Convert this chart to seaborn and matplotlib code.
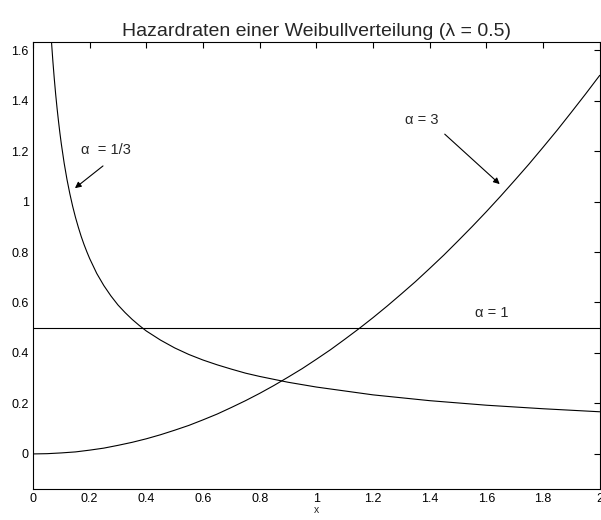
import matplotlib
matplotlib.use("Agg")
import matplotlib.pyplot as plt
import seaborn as sns
from matplotlib.ticker import FormatStrFormatter, MultipleLocator

# Werte
x_a13 = [0.050, 0.055, 0.060, 0.065, 0.070, 0.075, 0.080, 0.085, 0.090, 0.095,
         0.10, 0.11, 0.12, 0.13, 0.14, 0.15, 0.16, 0.17, 0.18, 0.19, 0.20,
         0.225, 0.25, 0.275, 0.30, 0.325, 0.35, 0.375, 0.40, 0.45, 0.50,
         0.55, 0.60, 0.65, 0.70, 0.75, 0.80, 0.90, 1.00,
         1.20, 1.40, 1.60, 1.80, 2.00]
h_a13 = [1.949, 1.829, 1.726, 1.637, 1.558, 1.488, 1.425, 1.369, 1.318, 1.271,
         1.228, 1.152, 1.087, 1.031, 0.981, 0.937, 0.898, 0.862, 0.830, 0.801, 0.774,
         0.715, 0.667, 0.626, 0.590, 0.560, 0.533, 0.509, 0.487, 0.451, 0.420,
         0.394, 0.372, 0.353, 0.336, 0.320, 0.307, 0.284, 0.265,
         0.234, 0.211, 0.193, 0.179, 0.167]

x_a3 = [0.0, 0.05, 0.1, 0.15, 0.2, 0.25, 0.3, 0.35, 0.4, 0.45, 0.5, 0.55, 0.6,
        0.65, 0.7, 0.75, 0.8, 0.85, 0.9, 0.95, 1.0, 1.05, 1.1, 1.15, 1.2,
        1.25, 1.3, 1.35, 1.4, 1.45, 1.5, 1.55, 1.6, 1.65, 1.7, 1.75, 1.8,
        1.85, 1.9, 1.95, 2.0]
h_a3 = [0.0, 0.001, 0.004, 0.008, 0.015, 0.023, 0.034, 0.046, 0.060, 0.076, 0.094,
        0.113, 0.135, 0.158, 0.184, 0.211, 0.240, 0.271, 0.304, 0.338, 0.375,
        0.413, 0.454, 0.496, 0.540, 0.586, 0.634, 0.683, 0.735, 0.788, 0.844,
        0.901, 0.960, 1.021, 1.084, 1.148, 1.215, 1.283, 1.354, 1.426, 1.500]

x_a1 = [0.0, 2.0]
h_a1 = [0.5, 0.5]

sns.set_style("white")
plt.rcParams["font.family"] = ["Liberation Sans", "DejaVu Sans"]

fig = plt.figure(figsize=(6.01, 5.2), dpi=100)
ax = fig.add_axes([0.0549, 0.0596, 0.943, 0.8596])

for xs, ys in [(x_a13, h_a13), (x_a3, h_a3), (x_a1, h_a1)]:
    sns.lineplot(x=xs, y=ys, ax=ax, color="black", linewidth=0.8, sort=False)

ax.set_xlim(0, 2)
ax.set_ylim(-0.139, 1.632)
ax.xaxis.set_major_locator(MultipleLocator(0.2))
ax.yaxis.set_major_locator(MultipleLocator(0.2))
ax.xaxis.set_major_formatter(FormatStrFormatter("%g"))
ax.yaxis.set_major_formatter(FormatStrFormatter("%g"))
ax.tick_params(direction="in", length=4, width=0.8, labelsize=9, pad=3,
               top=True, right=True, colors="black")
for s in ax.spines.values():
    s.set_color("black")
    s.set_linewidth(0.8)

ax.set_title("Hazardraten einer Weibullverteilung (λ = 0.5)", fontsize=14, pad=4)
ax.set_xlabel("x", fontsize=7.5, labelpad=0)

arrow = dict(arrowstyle="-|>", color="black", lw=0.8, mutation_scale=9,
             shrinkA=0, shrinkB=0)
ax.annotate("", xy=(0.148, 1.053), xytext=(0.247, 1.141), arrowprops=arrow)
ax.text(0.170, 1.204, "α  = 1/3", fontsize=10.5, va="center", ha="left")
ax.annotate("", xy=(1.647, 1.069), xytext=(1.453, 1.267), arrowprops=arrow)
ax.text(1.312, 1.323, "α = 3", fontsize=10.5, va="center", ha="left")
ax.text(1.560, 0.558, "α = 1", fontsize=10.5, va="center", ha="left")

fig.savefig("out.png", dpi=100)
